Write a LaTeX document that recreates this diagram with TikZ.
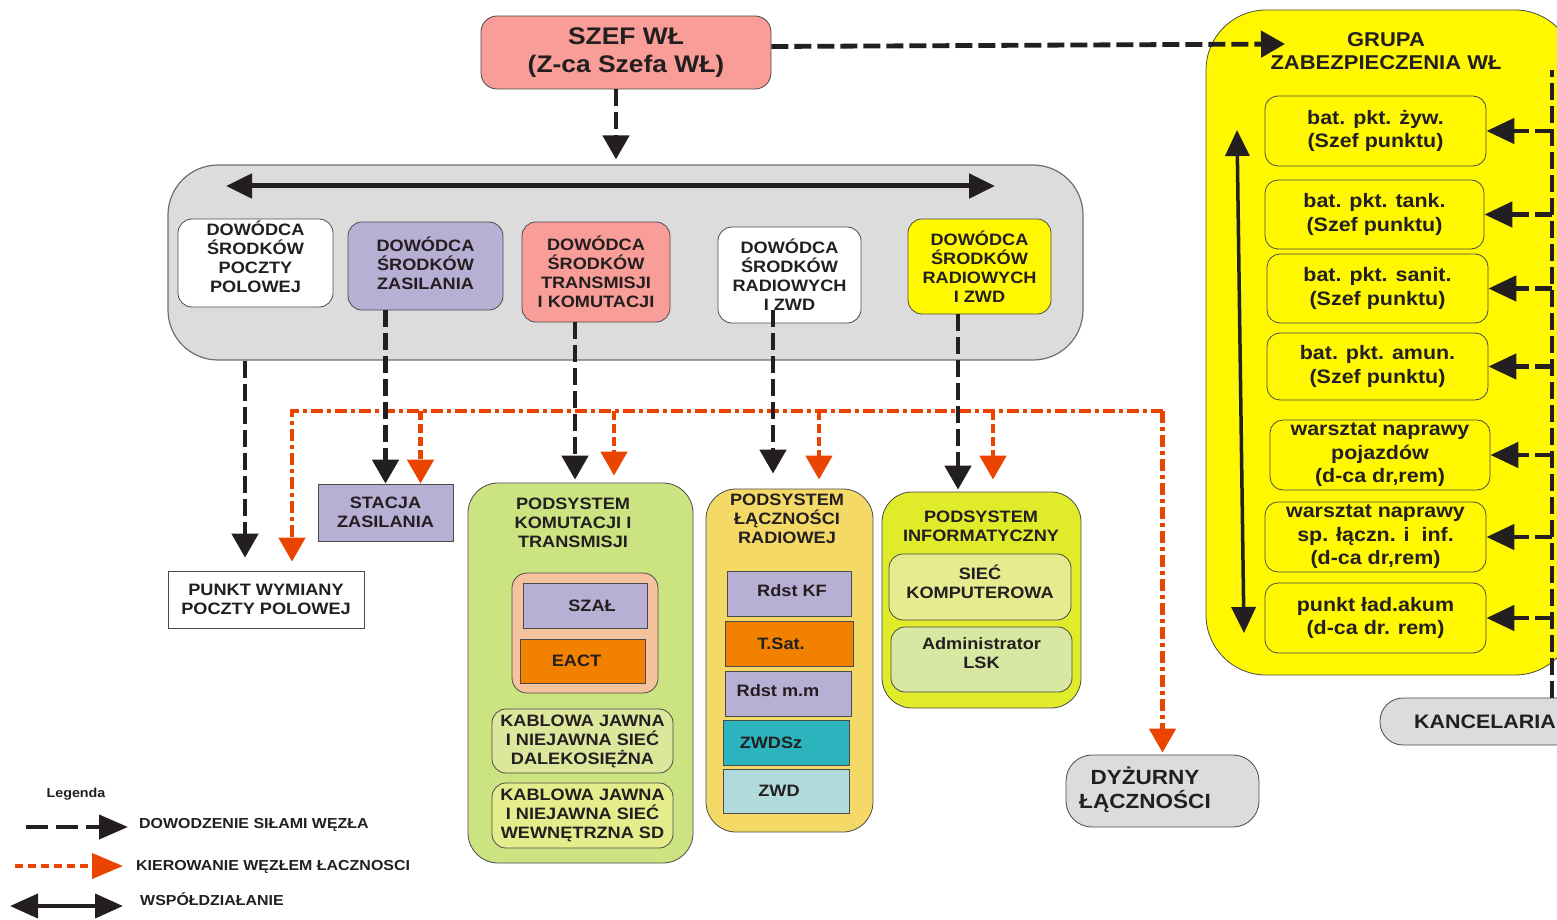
\documentclass[tikz,border=0pt]{standalone}
\usepackage{fontspec}
\setmainfont{Liberation Sans}[FakeStretch=1.1]
\usetikzlibrary{arrows.meta,calc}
\definecolor{txt}{HTML}{231F20}
\definecolor{bordc}{HTML}{4A4A4A}
\definecolor{salmon}{HTML}{F99D98}
\definecolor{greyf}{HTML}{DCDCDC}
\definecolor{greyb}{HTML}{6E6E6E}
\definecolor{purp}{HTML}{B8AFD5}
\definecolor{yel}{HTML}{FFF800}
\definecolor{lgreen}{HTML}{CCE381}
\definecolor{peach}{HTML}{F4C39E}
\definecolor{orng}{HTML}{F28100}
\definecolor{kabA}{HTML}{DCE79C}
\definecolor{kabB}{HTML}{E5EC8C}
\definecolor{gold}{HTML}{F5D966}
\definecolor{teal}{HTML}{2BB4BD}
\definecolor{lblue}{HTML}{B0DADC}
\definecolor{pinff}{HTML}{E0EB2A}
\definecolor{siecf}{HTML}{E5EB8E}
\definecolor{admf}{HTML}{D8E8A2}
\definecolor{myred}{HTML}{EB4300}
\newcommand\myfs[2]{\fontsize{#1}{#2}\selectfont\bfseries}
\begin{document}
\begin{tikzpicture}[x=1pt,y=-1pt,
  box/.style={draw=bordc, line width=0.8pt, align=center, inner sep=1pt, text=txt, font=\myfs{16.5}{19}},
  wh/.style 2 args={minimum width=#1pt, minimum height=#2pt},
  title/.style={align=center, inner sep=0pt, text=txt, font=\myfs{16.5}{19}},
  gbox/.style={box, fill=yel, rounded corners=13pt, font=\myfs{19.5}{23.5}},
  lg/.style={inner sep=0pt, text=txt, font=\myfs{14.5}{17}},
  cmd/.style={draw=txt, line width=4.8pt, dash pattern=on 17pt off 6pt, -{Triangle[length=24pt,width=26pt]}},
  cmdline/.style={draw=txt, line width=4pt, dash pattern=on 17pt off 6pt},
  ctl/.style={draw=myred, line width=4.8pt, dash pattern=on 12pt off 4pt on 4pt off 4pt, -{Triangle[length=24pt,width=26pt]}},
  ctls/.style={ctl, dash pattern=on 9pt off 4pt},
  coop/.style={draw=txt, line width=5pt, {Triangle[length=26pt,width=24pt]}-{Triangle[length=26pt,width=24pt]}},
]
\useasboundingbox (0,0) rectangle (1557,920);

% top
\node[box, wh={290}{73}, fill=salmon, rounded corners=16pt, font=\myfs{24}{28}] (szef) at (626,52.5) {SZEF WŁ\\(Z-ca Szefa WŁ)};

% grey container
\node[box, wh={915}{195}, fill=greyf, draw=greyb, line width=1.2pt, rounded corners=50pt] (dow) at (625.5,262.5) {};
\node[box, wh={155}{88}, fill=white, rounded corners=14pt] (d1) at (255.5,263) {DOWÓDCA\\ŚRODKÓW\\POCZTY\\POLOWEJ\\[-7pt]};
\node[box, wh={155}{88}, fill=purp, rounded corners=14pt] (d2) at (425.5,266) {DOWÓDCA\\ŚRODKÓW\\ZASILANIA\\[-14pt]};
\node[box, wh={148}{100}, fill=salmon, rounded corners=14pt] (d3) at (596,272) {DOWÓDCA\\ŚRODKÓW\\TRANSMISJI\\I KOMUTACJI};
\node[box, wh={143}{96}, fill=white, rounded corners=14pt] (d4) at (789.5,275) {DOWÓDCA\\ŚRODKÓW\\RADIOWYCH\\I ZWD};
\node[box, wh={143}{95}, fill=yel, rounded corners=14pt] (d5) at (979.5,266.5) {DOWÓDCA\\ŚRODKÓW\\RADIOWYCH\\I ZWD};

% lower left
\node[box, wh={135}{57}, fill=purp] (stacja) at (385.5,512.5) {STACJA\\ZASILANIA};
\node[box, wh={196}{57}, fill=white] (punkt) at (266,599.5) {PUNKT WYMIANY\\POCZTY POLOWEJ};

% subsystem KT
\node[box, wh={225}{380}, fill=lgreen, rounded corners=30pt] (pkt) at (580.5,673) {};
\node[title] (pktt) at (573,523) {PODSYSTEM\\KOMUTACJI I\\TRANSMISJI};
\node[box, wh={146}{120}, fill=peach, rounded corners=15pt] (peach) at (585,633) {};
\node[box, wh={124}{45}, fill=purp] (szal) at (585,605.5) {\hspace*{14pt}SZAŁ};
\node[box, wh={125}{44}, fill=orng] (eact) at (582.5,661) {EACT\hspace*{12pt}};
\node[box, wh={181}{64}, fill=kabA, rounded corners=14pt] (kab1) at (582.5,741) {KABLOWA JAWNA\\I NIEJAWNA SIEĆ\\DALEKOSIĘŻNA};
\node[box, wh={181}{65}, fill=kabB, rounded corners=14pt] (kab2) at (582.5,815.5) {KABLOWA JAWNA\\I NIEJAWNA SIEĆ\\WEWNĘTRZNA SD};

% subsystem radio
\node[box, wh={167}{343}, fill=gold, rounded corners=30pt] (prad) at (789.5,660.5) {};
\node[title] (pradt) at (787,519) {PODSYSTEM\\ŁĄCZNOŚCI\\RADIOWEJ};
\node[box, wh={124}{45}, fill=purp] (rkf) at (789,593.5) {\hspace*{6pt}Rdst KF\\[-14pt]};
\node[box, wh={128}{45}, fill=orng] (tsat) at (789,643.5) {T.Sat.\hspace*{16pt}};
\node[box, wh={126}{45}, fill=purp] (rmm) at (788,693.5) {Rdst m.m\hspace*{20pt}\\[-14pt]};
\node[box, wh={126}{45}, fill=teal] (zwdsz) at (786,742.5) {ZWDSz\hspace*{30pt}};
\node[box, wh={126}{44}, fill=lblue] (zwd) at (786,791) {ZWD\hspace*{14pt}};

% subsystem inf
\node[box, wh={199}{216}, fill=pinff, rounded corners=30pt] (pinf) at (981.5,600) {};
\node[title] (pinft) at (981,526.5) {PODSYSTEM\\INFORMATYCZNY};
\node[box, wh={182}{66}, fill=siecf, rounded corners=14pt] (siec) at (980,587) {SIEĆ\\KOMPUTEROWA\\[-8pt]};
\node[box, wh={181}{65}, fill=admf, rounded corners=14pt] (adm) at (981.5,659.5) {Administrator\\LSK\\[-7pt]};

% dyzurny
\node[box, wh={193}{72}, fill=greyf, rounded corners=26pt] (dyz) at (1162.5,791) {};
\node[title, font=\myfs{20.5}{24}] (dyzt) at (1145,790) {DYŻURNY\\ŁĄCZNOŚCI};

% group
\begin{scope}
\clip (0,0) rectangle (1557,920);
\node[box, wh={369}{665}, fill=yel, rounded corners=60pt] (grupa) at (1390.5,342.5) {};
\node[title, font=\myfs{20}{23}] (grupat) at (1386,51.5) {GRUPA\\ZABEZPIECZENIA WŁ};
\node[gbox, wh={221}{70}] (g1) at (1375.5,131) {bat. pkt. żyw.\\(Szef punktu)};
\node[gbox, wh={219}{69}] (g2) at (1374.5,214.5) {bat. pkt. tank.\\(Szef punktu)};
\node[gbox, wh={221}{69}] (g3) at (1377.5,288.5) {bat. pkt. sanit.\\(Szef punktu)};
\node[gbox, wh={221}{67}] (g4) at (1377.5,366.5) {bat. pkt. amun.\\(Szef punktu)};
\node[gbox, wh={220}{70}] (g5) at (1380,455) {warsztat naprawy\\pojazdów\\(d-ca dr,rem)};
\node[gbox, wh={221}{70}] (g6) at (1375.5,537) {warsztat naprawy\\sp. łączn. i~ inf.\\(d-ca dr,rem)};
\node[gbox, wh={221}{70}] (g7) at (1375.5,618) {punkt ład.akum\\(d-ca dr. rem)};
\node[box, wh={210}{47}, fill=greyf, rounded corners=23pt, font=\myfs{19.5}{23}] (kanc) at (1485,721.5) {KANCELARIA};
\end{scope}

% command connectors from the top
\coordinate (s1) at ($(szef.south)+(-10,0)$);
\coordinate (s2) at ($(dow.north)+(-9.5,0)$);
\draw[cmd, shorten >=5pt] (s1) -- (s2);
\coordinate (s3) at ($(szef.east)+(0,-6)$);
\coordinate (gtip) at (1285,44);
\draw[cmd] (s3) -- (gtip);
\coordinate (hL) at (226,186);
\coordinate (hR) at (995,186);
\draw[coop] (hL) -- (hR);

% control (red) bus
\coordinate (busL) at (292,411);
\coordinate (busR) at (dyz.north |- busL);
\draw[ctl, shorten >=9pt] (busR) -- (busL) -- (busL |- punkt.north);
\draw[ctl, shorten >=2pt] (busR) -- (dyz.north);
\coordinate (r1) at ($(stacja.north)+(35,0)$);
\draw[ctls] (r1 |- busL) -- (r1);
\coordinate (r2) at ($(pkt.north)+(33.5,0)$);
\draw[ctls, shorten >=7pt] (r2 |- busL) -- (r2);
\coordinate (r3) at ($(prad.north)+(29.5,0)$);
\draw[ctls, shorten >=9pt] (r3 |- busL) -- (r3);
\coordinate (r4) at ($(pinf.north)+(11.5,0)$);
\draw[ctls, shorten >=12pt] (r4 |- busL) -- (r4);

% command drops
\coordinate (b1) at ($(punkt.north)+(-21,0)$);
\draw[cmd, shorten >=13pt] (b1 |- dow.south) -- (b1);
\draw[cmd] (stacja.north |- d2.south) -- (stacja.north);
\coordinate (b3) at ($(pkt.north)+(-5.5,0)$);
\draw[cmd, shorten >=3pt] (b3 |- d3.south) -- (b3);
\coordinate (b4s) at ($(d4.south)+(-16.5,-13)$);
\coordinate (b4) at ($(prad.north)+(-16.5,0)$);
\draw[cmd, shorten >=15pt] (b4s) -- (b4);
\coordinate (b5) at ($(pinf.north)+(-23.5,0)$);
\draw[cmd, shorten >=2pt] (b5 |- d5.south) -- (b5);

% group internal
\coordinate (vt) at (1552,70);
\draw[cmdline] (kanc.north -| vt) -- (vt);
\foreach \g in {g1,g2,g3,g4,g5,g6,g7}{
  \draw[cmd, -{Triangle[length=28pt,width=25pt]}] (\g.east -| vt) -- (\g.east);
}
\coordinate (ga) at (1237,130);
\coordinate (gb) at (1244,633);
\draw[coop, line width=3.5pt] (ga) -- (gb);

% legend
\node[inner sep=0pt, text=txt, font=\myfs{13}{15}] (leg) at (76,794) {Legenda};
\node[lg, anchor=west] (l1) at (139,825) {DOWODZENIE SIŁAMI WĘZŁA};
\coordinate (l1s) at (26,827);
\draw[cmd, line width=4pt, dash pattern=on 22pt off 8pt, -{Triangle[length=29pt,width=24pt]}, shorten >=11pt] (l1s) -- (l1s -| l1.west);
\node[lg, anchor=west] (l2) at (136,867) {KIEROWANIE WĘZŁEM ŁACZNOSCI};
\coordinate (l2s) at (15,866);
\draw[ctl, line width=4pt, dash pattern=on 8pt off 5pt, -{Triangle[length=31pt,width=25pt]}, shorten >=13pt] (l2s) -- (l2s -| l2.west);
\node[lg, anchor=west] (l3) at (140,899) {WSPÓŁDZIAŁANIE};
\coordinate (l3s) at (10,906);
\draw[coop, line width=4pt, {Triangle[length=28pt,width=24pt]}-{Triangle[length=28pt,width=24pt]}, shorten >=17pt] (l3s) -- (l3s -| l3.west);
\end{tikzpicture}
\end{document}
